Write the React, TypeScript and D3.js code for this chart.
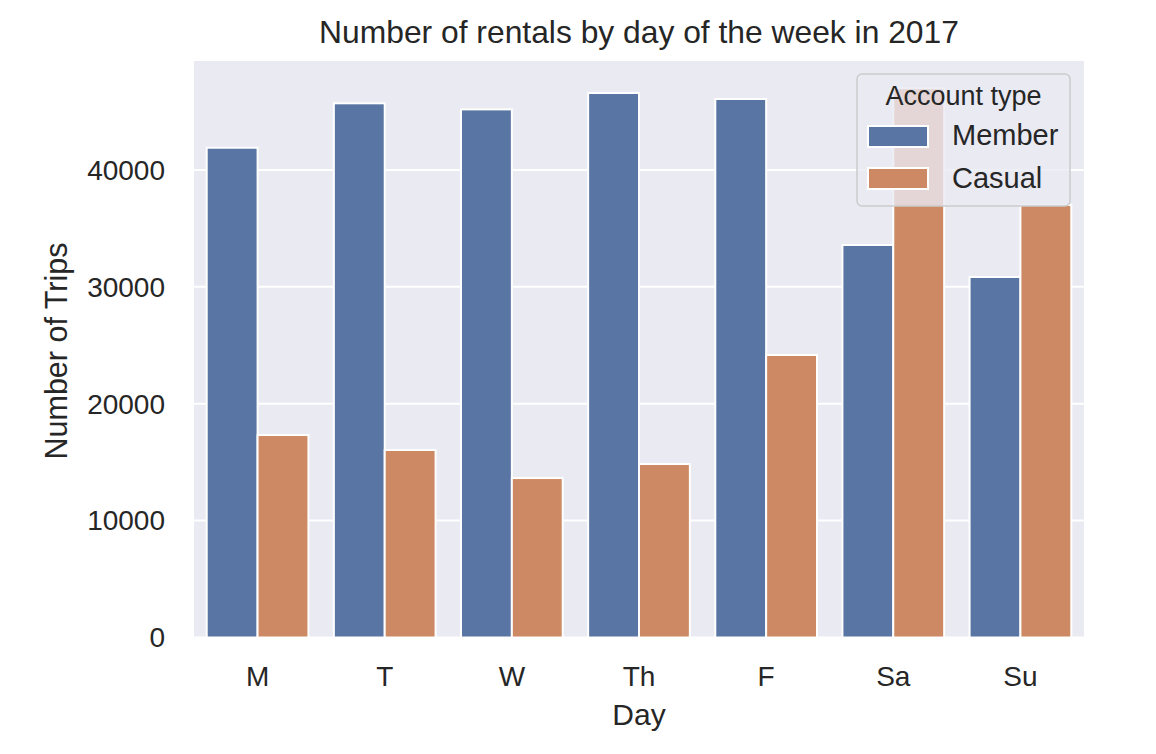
import React from "react";
import * as d3 from "d3";

const days = ["M", "T", "W", "Th", "F", "Sa", "Su"];
const seriesNames = ["Member", "Casual"];
const memberValues = [41900, 45700, 45180, 46580, 46070, 33580, 30840];
const casualValues = [17320, 16040, 13640, 14840, 24170, 47000, 37000];
const yTicks = [0, 10000, 20000, 30000, 40000];
const colors = ["#5975a4", "#cc8963"];

const W = 1156, H = 754;
const m = { left: 194, right: 1084, top: 61, bottom: 637.5 };
const font = "'Liberation Sans', Arial, sans-serif";

export default function App() {
  const x = d3.scaleBand<string>().domain(days).range([m.left, m.right]).paddingInner(0).paddingOuter(0);
  const sub = d3.scaleBand<string>().domain(seriesNames).range([0, x.bandwidth() * 0.8]);
  const y = d3.scaleLinear().domain([0, 49320]).range([m.bottom, m.top]);
  const series = [memberValues, casualValues];
  return (
    <svg width={W} height={H} style={{ display: "block", position: "absolute", left: 0, top: 0 }} fontFamily={font}>
      <rect x={0} y={0} width={W} height={H} fill="#fff" />
      <rect x={m.left} y={m.top} width={m.right - m.left} height={m.bottom - m.top} fill="#eaeaf2" />
      {yTicks.map((t) => (
        <g key={t}>
          <line x1={m.left} x2={m.right} y1={y(t)} y2={y(t)} stroke="#fff" strokeWidth={2} />
          <text x={165} y={y(t)} dy="0.35em" textAnchor="end" fontSize={28} fill="#262626">{t}</text>
        </g>
      ))}
      {series.map((vals, si) =>
        days.map((d, i) => {
          const x0 = (x(d) as number) + x.bandwidth() * 0.1 + (sub(seriesNames[si]) as number);
          return (
            <rect key={si + d} x={x0} y={y(vals[i])} width={sub.bandwidth()} height={y(0) - y(vals[i])}
              fill={colors[si]} stroke="#fff" strokeWidth={2} />
          );
        })
      )}
      {days.map((d) => (
        <text key={d} x={(x(d) as number) + x.bandwidth() / 2} y={686} textAnchor="middle" fontSize={28} fill="#262626">{d}</text>
      ))}
      <text x={(m.left + m.right) / 2} y={725} textAnchor="middle" fontSize={30} fill="#262626">Day</text>
      <text transform={`translate(67,${351}) rotate(-90)`} textAnchor="middle" fontSize={30.5} fill="#262626">Number of Trips</text>
      <text x={(m.left + m.right) / 2} y={43} textAnchor="middle" fontSize={31.8} fill="#262626">Number of rentals by day of the week in 2017</text>
      <g>
        <rect x={857} y={74} width={213} height={132} rx={5} fill="#eaeaf2" fillOpacity={0.8} stroke="#cccccc" strokeWidth={1.5} />
        <text x={963.5} y={105} textAnchor="middle" fontSize={27} fill="#262626">Account type</text>
        {seriesNames.map((s, i) => (
          <g key={s}>
            <rect x={868} y={126 + i * 42} width={60} height={21} fill={colors[i]} stroke="#fff" strokeWidth={2} />
            <text x={952} y={145 + i * 43} fontSize={29} fill="#262626">{s}</text>
          </g>
        ))}
      </g>
    </svg>
  );
}
